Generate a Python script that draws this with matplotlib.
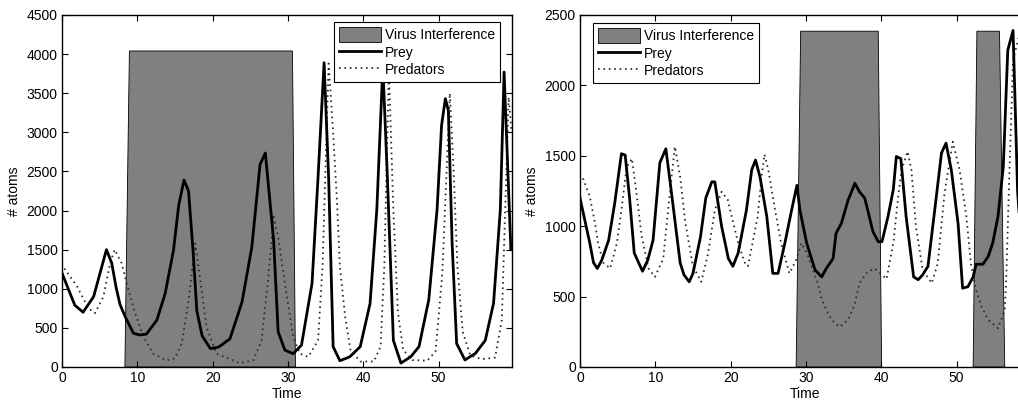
import numpy as np
import matplotlib.pyplot as plt
from matplotlib.patches import Patch
from matplotlib.lines import Line2D

plt.rcParams['font.family'] = ['Liberation Sans', 'DejaVu Sans']
plt.rcParams['font.size'] = 10

# ---------------- data ----------------
# left panel
prey_l_t = [0, 1.7, 2.8, 4.2, 5.9, 6.6, 7.2, 7.7, 8.4, 9.5, 10.3, 11.2, 12.6, 13.7, 14.8,
            15.5, 16.2, 16.8, 17.4, 17.9, 18.6, 19.7, 20.8, 22.3, 23.9, 25.2, 26.3, 27.0,
            28.1, 28.7, 29.6, 30.7, 31.8, 33.2, 34.0, 34.8, 35.4, 36.0, 36.9, 38.2, 39.6,
            40.9, 41.8, 42.6, 43.2, 44.0, 45.0, 46.3, 47.4, 48.7, 49.8, 50.4, 50.9, 51.3,
            51.8, 52.4, 53.5, 54.9, 56.2, 57.3, 58.2, 58.7, 59.6]
prey_l_v = [1200, 790, 700, 900, 1500, 1330, 1010, 800, 640, 430, 410, 420, 600, 940, 1490,
            2070, 2390, 2250, 1490, 720, 400, 235, 255, 360, 830, 1530, 2590, 2735,
            1620, 450, 215, 170, 280, 1070, 2430, 3890, 2430, 260, 80, 130, 260,
            810, 2010, 3850, 2430, 340, 50, 130, 260, 860, 2010, 3090, 3430, 3280,
            1580, 300, 90, 175, 340, 815, 2010, 3770, 1500]
pred_l_t = [0.3, 2.0, 3.5, 4.4, 5.5, 6.4, 7.0, 7.9, 8.6, 9.7, 10.8, 12.1, 13.9, 15.0, 15.9,
            16.8, 17.7, 18.3, 19.2, 20.5, 23.6, 25.4, 26.5, 27.4, 28.1, 28.7, 29.8, 30.7,
            31.6, 32.7, 34.0, 34.6, 35.4, 36.0, 36.5, 36.9, 37.6, 38.3, 39.6, 41.4, 42.3,
            42.8, 43.4, 44.0, 44.6, 45.3, 46.5, 48.5, 49.6, 50.5, 51.5, 52.0, 52.5, 53.2,
            54.2, 55.7, 57.5, 58.4, 59.3, 59.7]
pred_l_v = [1260, 1030, 750, 690, 900, 1330, 1500, 1330, 1070, 690, 390, 170, 85, 110, 300,
            850, 1580, 1150, 510, 170, 50, 85, 340, 1150, 1920, 1660, 940, 380,
            170, 130, 340, 1300, 3880, 3000, 2140, 1280, 640, 220, 70, 70, 260,
            1300, 3800, 2000, 700, 220, 90, 80, 200, 1200, 3500, 2500, 1300, 450,
            150, 100, 120, 600, 3450, 3000]
virus_l_x = [8.35, 8.95, 30.6, 31.0]
virus_l_y = [0, 4040, 4040, 0]

# right panel
prey_r_t = [0, 1.3, 1.8, 2.3, 2.9, 3.8, 4.6, 5.5, 6.0, 6.6, 7.2, 8.3, 9.0, 9.7, 10.6, 11.4,
            12.0, 13.3, 13.8, 14.5, 15.0, 16.0, 16.7, 17.5, 17.9, 18.8, 19.7, 20.3, 21.0,
            22.1, 22.8, 23.3, 23.9, 24.8, 25.6, 26.3, 27.2, 28.1, 28.8, 29.2, 30.1, 31.2,
            32.1, 32.7, 33.6, 34.0, 34.7, 35.6, 36.5, 37.1, 37.8, 38.2, 38.9, 39.6, 40.1,
            40.9, 41.6, 42.0, 42.6, 43.3, 44.3, 44.9, 45.5, 46.2, 47.1, 48.0, 48.6, 49.3,
            50.2, 50.8, 51.5, 52.2, 52.6, 53.5, 54.2, 54.8, 55.5, 56.2, 56.8, 57.5, 58.1,
            58.8, 59.6]
prey_r_v = [1200, 880, 740, 700, 760, 900, 1160, 1515, 1505, 1190, 810, 680, 760, 900, 1450,
            1550, 1300, 740, 655, 605, 665, 925, 1200, 1315, 1315, 1000, 770, 715, 810,
            1115, 1400, 1470, 1350, 1070, 665, 665, 880, 1115, 1290, 1115, 880, 690,
            640, 700, 770, 950, 1020, 1185, 1305, 1245, 1200, 1115, 960, 890, 890,
            1070, 1260, 1495, 1480, 1070, 640, 620, 655, 715, 1115, 1520, 1590, 1400,
            1020, 560, 570, 640, 730, 730, 785, 880, 1070, 1420, 2250, 2390, 1250,
            700, 500]
pred_r_t = [0.4, 1.3, 2.0, 2.4, 3.1, 4.0, 4.9, 5.5, 6.2, 6.9, 7.5, 8.2, 9.1, 9.95, 11.05,
            11.7, 12.4, 12.6, 13.3, 14.0, 15.0, 16.1, 17.0, 17.9, 18.8, 19.6, 21.0, 21.9,
            22.3, 23.6, 24.1, 24.5, 25.0, 25.9, 26.7, 27.8, 28.7, 29.4, 30.2, 31.0, 31.6,
            32.1, 32.7, 33.4, 34.5, 35.6, 36.5, 37.1, 38.0, 39.1, 40.0, 40.7, 41.6, 42.3,
            42.7, 43.5, 44.0, 44.6, 45.5, 46.7, 47.5, 48.4, 49.5, 50.4, 51.3, 51.9, 52.6,
            53.3, 54.2, 55.5, 56.4, 56.6, 57.0, 57.5, 58.3, 59.0]
pred_r_v = [1340, 1210, 1020, 880, 740, 700, 880, 1115, 1420, 1480, 1235, 925, 700, 640, 770,
            1115, 1470, 1565, 1350, 1020, 715, 605, 805, 1115, 1245, 1190, 880, 740,
            715, 1070, 1350, 1510, 1400, 1115, 880, 665, 760, 880, 800, 680, 590,
            480, 405, 335, 285, 335, 450, 595, 665, 700, 660, 625, 880, 1235,
            1400, 1530, 1400, 1000, 690, 595, 735, 1235, 1600, 1400, 1070, 735, 545,
            430, 335, 275, 405, 640, 1350, 2180, 2350, 2200]
virus_r1_x = [28.7, 29.3, 39.6, 40.05]
virus_r2_x = [52.2, 52.7, 55.7, 56.4]
virus_r_y = [0, 2385, 2385, 0]

# ---------------- figure ----------------
W, H = 1018, 401
fig = plt.figure(figsize=(W / 100, H / 100), dpi=100)
ax1 = fig.add_axes([62 / W, 34 / H, 450 / W, 352 / H])
ax2 = fig.add_axes([580 / W, 34 / H, 450 / W, 352 / H])

gray = '#808080'
dot_col = '#2a2a2a'
dots = (0, (0.9, 2.1))


def style(ax, ymax, step):
    ax.set_xlim(0, 59.75)
    ax.set_ylim(0, ymax)
    ax.set_xticks(np.arange(0, 51, 10))
    ax.set_yticks(np.arange(0, ymax + 1, step))
    ax.tick_params(direction='in', length=4, width=0.8, top=True, right=True,
                   labelsize=10, pad=3)
    for s in ax.spines.values():
        s.set_linewidth(1.0)
    ax.set_xlabel('Time', fontsize=10, labelpad=1)
    ax.set_ylabel('# atoms', fontsize=10, labelpad=4)


handles = [Patch(facecolor=gray, edgecolor='k', linewidth=0.6),
           Line2D([], [], color='k', lw=2),
           Line2D([], [], color=dot_col, lw=1.3, linestyle=dots)]
labels = ['Virus Interference', 'Prey', 'Predators']
leg_kw = dict(fontsize=10, frameon=True, fancybox=False, framealpha=1, edgecolor='k',
              handlelength=3.0, handleheight=1.25, handletextpad=0.3, labelspacing=0.2,
              borderpad=0.35, borderaxespad=0)

# left
ax1.fill(virus_l_x, virus_l_y, facecolor=gray, edgecolor='k', linewidth=0.6)
ax1.plot(pred_l_t, pred_l_v, color=dot_col, lw=1.3, linestyle=dots)
ax1.plot(prey_l_t, prey_l_v, color='k', lw=2)
style(ax1, 4500, 500)
leg = ax1.legend(handles, labels, loc='upper right',
                 bbox_to_anchor=(1 - 12 / 450, 1 - 7 / 352), **leg_kw)
leg.get_frame().set_linewidth(0.8)

# right
ax2.fill(virus_r1_x, virus_r_y, facecolor=gray, edgecolor='k', linewidth=0.6)
ax2.fill(virus_r2_x, virus_r_y, facecolor=gray, edgecolor='k', linewidth=0.6)
ax2.plot(pred_r_t, pred_r_v, color=dot_col, lw=1.3, linestyle=dots)
ax2.plot(prey_r_t, prey_r_v, color='k', lw=2)
style(ax2, 2500, 500)
leg = ax2.legend(handles, labels, loc='upper left',
                 bbox_to_anchor=(13 / 450, 1 - 8 / 352), **leg_kw)
leg.get_frame().set_linewidth(0.8)

fig.savefig('out.png', dpi=100)
